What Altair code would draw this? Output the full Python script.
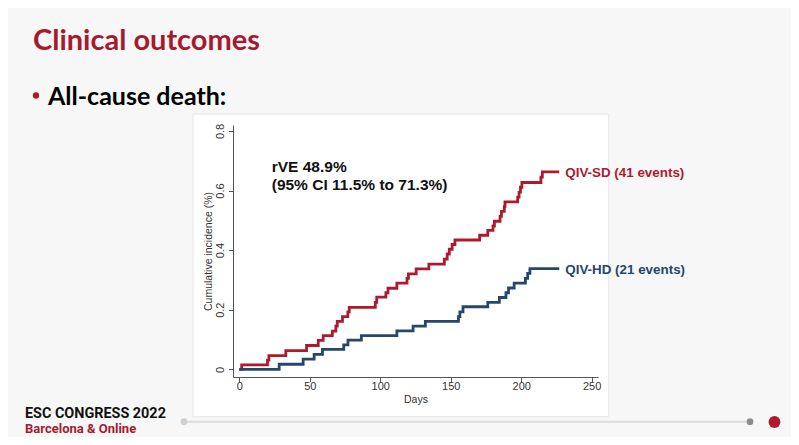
import altair as alt
import pandas as pd

# ---------------- data ----------------
groups = ["QIV-SD", "QIV-HD"]
group_labels = ["QIV-SD (41 events)", "QIV-HD (21 events)"]
group_colors = ["#AE1A2D", "#25476B"]

sd_days = [0, 1.7, 20, 21, 33, 47.7, 56, 59.5, 66, 68.5, 69.5, 73.2, 77, 78, 96.5, 97.5,
           104, 105.5, 111.8, 119, 120, 125.5, 134.5, 145.5, 147.5, 149, 151, 153, 170.5,
           176.3, 180, 181, 185, 186, 188, 188.5, 197.5, 198.5, 199.5, 200.5, 214, 215, 227]
sd_vals = [0, 0.015, 0.031, 0.046, 0.063, 0.080, 0.097, 0.113, 0.128, 0.145, 0.161, 0.177,
           0.193, 0.208, 0.225, 0.242, 0.257, 0.272, 0.289, 0.305, 0.320, 0.337, 0.353, 0.370,
           0.387, 0.403, 0.419, 0.434, 0.450, 0.466, 0.481, 0.497, 0.513, 0.530, 0.546, 0.562,
           0.578, 0.595, 0.611, 0.627, 0.645, 0.663, 0.663]

hd_days = [0, 28.3, 45.3, 53.1, 59, 74.1, 77.1, 86.6, 111.8, 123.3, 132, 155.5, 156.5, 158.7,
           176.3, 184.5, 189.2, 191, 195, 203, 204.6, 206.2, 227]
hd_vals = [0, 0.017, 0.034, 0.050, 0.067, 0.082, 0.098, 0.113, 0.129, 0.145, 0.161, 0.177,
           0.193, 0.210, 0.225, 0.241, 0.257, 0.273, 0.289, 0.305, 0.322, 0.338, 0.338]

x_ticks = [0, 50, 100, 150, 200, 250]
y_ticks = [0, 0.2, 0.4, 0.6, 0.8]

slide_title = "Clinical outcomes"
bullet_text = "All-cause death:"
anno_line1 = "rVE 48.9%"
anno_line2 = "(95% CI 11.5% to 71.3%)"
anno_day = 23
anno_y1 = 0.661
anno_y2 = 0.603
footer1 = "ESC CONGRESS 2022"
footer2 = "Barcelona & Online"

# ---------------- tables ----------------
curves = pd.concat([
    pd.DataFrame({"day": sd_days, "value": sd_vals, "group": groups[0]}),
    pd.DataFrame({"day": hd_days, "value": hd_vals, "group": groups[1]}),
])
ends = pd.DataFrame({
    "day": [sd_days[-1], hd_days[-1]],
    "value": [sd_vals[-1], hd_vals[-1]],
    "group": groups,
    "label": group_labels,
})
anno = pd.DataFrame({"day": [anno_day, anno_day], "value": [anno_y1, anno_y2],
                     "t": [anno_line1, anno_line2]})

x_scale = alt.Scale(domain=[-4.47, 254.5], nice=False, zero=False)
y_scale = alt.Scale(domain=[-0.0258, 0.820], nice=False, zero=False)
color_scale = alt.Scale(domain=groups, range=group_colors)

AX_FONT = "Liberation Sans"

one = pd.DataFrame({"k": [0]})

# white panel behind the plot
panel = alt.Chart(one).mark_rect(fill="white", stroke="#E6E6E6", strokeWidth=1).encode(
    x=alt.value(-40), x2=alt.value(375.7), y=alt.value(-11), y2=alt.value(291.7)
)

lines = alt.Chart(curves).mark_line(
    interpolate="step-after", strokeWidth=2.8, strokeCap="butt", strokeJoin="miter"
).encode(
    x=alt.X("day:Q", scale=x_scale,
            axis=alt.Axis(values=x_ticks, title="Days", grid=False, tickSize=4.5,
                          labelPadding=4.5, labelBaseline="middle", labelFontSize=11,
                          labelFont=AX_FONT, titleFont=AX_FONT, titleFontSize=10.5,
                          titleFontWeight="normal", titleX=182.5, titleY=22,
                          titleBaseline="middle", titleAlign="center",
                          domainColor="#555555", tickColor="#555555",
                          labelColor="#333333", titleColor="#333333", zindex=1)),
    y=alt.Y("value:Q", scale=y_scale,
            axis=alt.Axis(values=y_ticks, format=".1~f", title="Cumulative incidence (%)",
                          grid=False, tickSize=4.5, labelAngle=270, labelAlign="center",
                          labelBaseline="middle", labelPadding=8.5, labelFontSize=11,
                          labelFont=AX_FONT, titleFont=AX_FONT, titleFontSize=10.5,
                          titleFontWeight="normal", titleAngle=270, titleX=-24.7,
                          titleY=126, titleAlign="center", titleBaseline="middle",
                          domainColor="#555555", tickColor="#555555",
                          labelColor="#333333", titleColor="#333333", zindex=1)),
    color=alt.Color("group:N", scale=color_scale, legend=None),
    detail="group:N",
)

end_labels = alt.Chart(ends).mark_text(
    align="left", baseline="middle", dx=6, dy=1.5, font=AX_FONT, fontSize=13.4,
    fontWeight="bold"
).encode(
    x=alt.X("day:Q", scale=x_scale),
    y=alt.Y("value:Q", scale=y_scale),
    text="label:N",
    color=alt.Color("group:N", scale=color_scale, legend=None),
)

anno_text = alt.Chart(anno).mark_text(
    align="left", baseline="alphabetic", font=AX_FONT, fontSize=15.5, fontWeight="bold",
    color="#111111"
).encode(
    x=alt.X("day:Q", scale=x_scale),
    y=alt.Y("value:Q", scale=y_scale),
    text="t:N",
)

# slide decorations (pixel positions relative to plot origin)
title_mark = alt.Chart(pd.DataFrame({"t": [slide_title]})).mark_text(
    align="left", baseline="alphabetic", font="Lato", fontSize=29, fontWeight="bold",
    color="#A51A2F"
).encode(x=alt.value(-200), y=alt.value(-75), text="t:N")

bullet_dot = alt.Chart(one).mark_point(
    shape="circle", filled=True, size=40, color="#B0182C", opacity=1
).encode(x=alt.value(-197), y=alt.value(-29.5))

bullet_mark = alt.Chart(pd.DataFrame({"t": [bullet_text]})).mark_text(
    align="left", baseline="alphabetic", font="Lato", fontSize=25, fontWeight="bold",
    color="#000000"
).encode(x=alt.value(-185), y=alt.value(-20.5), text="t:N")

foot1 = alt.Chart(pd.DataFrame({"t": [footer1]})).mark_text(
    align="left", baseline="alphabetic", font="Roboto", fontSize=14.4, fontWeight="bold",
    color="#111111"
).encode(x=alt.value(-208), y=alt.value(293), text="t:N")

foot2 = alt.Chart(pd.DataFrame({"t": [footer2]})).mark_text(
    align="left", baseline="alphabetic", font="Roboto", fontSize=13, fontWeight="bold",
    color="#A51A2F"
).encode(x=alt.value(-208), y=alt.value(307.5), text="t:N")

foot_line = alt.Chart(one).mark_rule(color="#DCDCDC", strokeWidth=2).encode(
    x=alt.value(-49), x2=alt.value(517), y=alt.value(296.7)
)
dot_left = alt.Chart(one).mark_point(shape="circle", filled=True, size=45,
                                     color="#D0D0D0", opacity=1).encode(
    x=alt.value(-49), y=alt.value(296.7))
dot_mid = alt.Chart(one).mark_point(shape="circle", filled=True, size=45,
                                    color="#8E8E8E", opacity=1).encode(
    x=alt.value(517), y=alt.value(296.7))
dot_red = alt.Chart(one).mark_point(shape="circle", filled=True, size=140,
                                    color="#B0182C", opacity=1).encode(
    x=alt.value(541.5), y=alt.value(297))

chart = alt.layer(
    panel, lines, end_labels, anno_text, title_mark, bullet_dot, bullet_mark,
    foot_line, dot_left, dot_mid, dot_red, foot1, foot2
).properties(
    width=365,
    height=252,
    padding={"left": 225, "top": 117, "right": 193, "bottom": 60},
    autosize=alt.AutoSizeParams(type="none"),
    background="#F7F7F7",
).configure_view(stroke=None)

chart.save("out.html", embed_options={"renderer": "svg", "actions": False})
